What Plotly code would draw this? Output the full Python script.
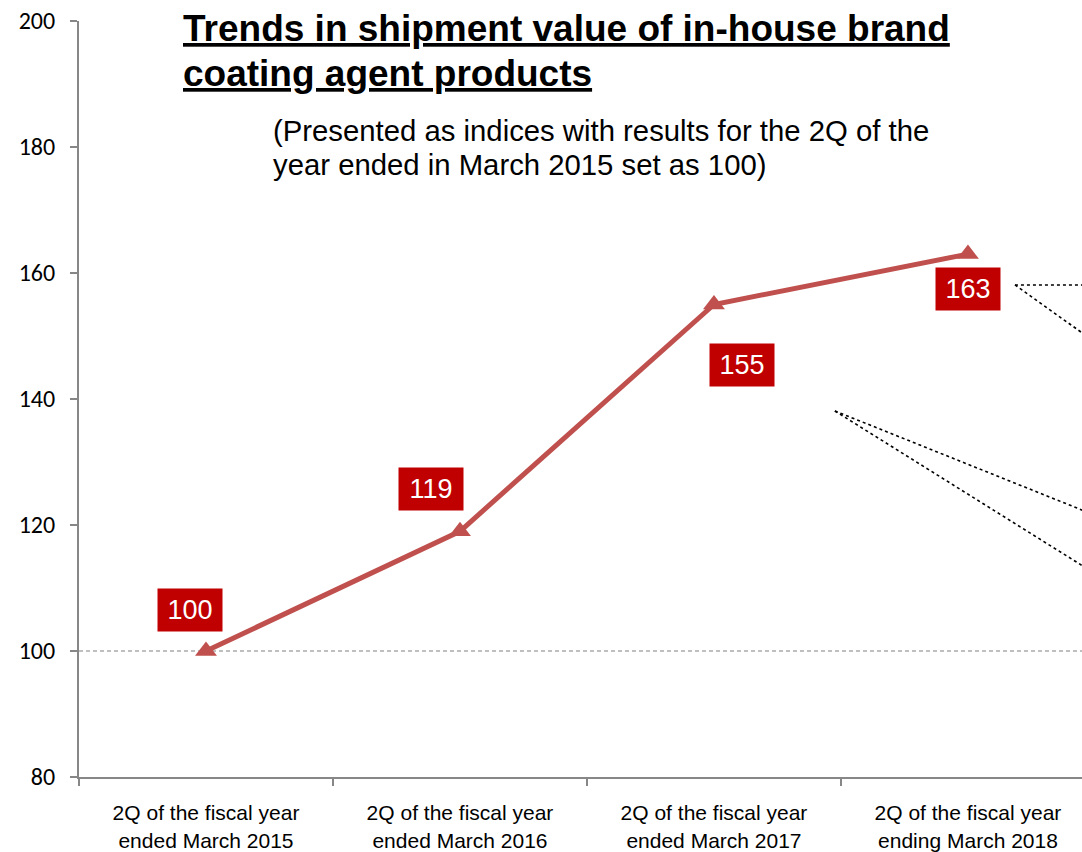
import plotly.graph_objects as go

# Shipment value index (2Q of FY ended March 2015 = 100)
periods = [
    "2Q of the fiscal year<br>ended March 2015",
    "2Q of the fiscal year<br>ended March 2016",
    "2Q of the fiscal year<br>ended March 2017",
    "2Q of the fiscal year<br>ending March 2018",
]
index_values = [100, 119, 155, 163]
y_ticks = [80, 100, 120, 140, 160, 180, 200]

title_lines = ["Trends in shipment value of in-house brand", "coating agent products"]
note_lines = ["(Presented as indices with results for the 2Q of the",
              "year ended in March 2015 set as 100)"]

# Pixel offsets for the value badges relative to each point
badge_dx = [-16, -29, 28, 0]
badge_dy = [41, 42, -60, -35]

# Dotted callout leaders running off to the right (category-x, index-y)
callouts = [
    ((3.185, 158.1), (3.46, 158.1)),
    ((3.185, 158.1), (3.46, 150.2)),
    ((2.476, 138.1), (3.46, 122.2)),
    ((2.476, 138.1), (3.46, 113.3)),
]

line_color = "#C0504D"
badge_color = "#C00000"
axis_color = "#878787"
sans = "Liberation Sans, Arial"

# Plot area in pixels: left 79, top 21, width 1003, height 756
PL, PT, PW, PH = 79, 21, 1003, 756


def px_to_paper(x_px, y_px):
    return (x_px - PL) / PW, 1 - (y_px - PT) / PH


fig = go.Figure()
fig.add_trace(go.Scatter(
    x=periods, y=index_values,
    mode="lines+markers",
    line=dict(color=line_color, width=5),
    marker=dict(symbol="triangle-up", size=19, color=line_color),
    cliponaxis=False,
    hoverinfo="skip",
))

# Reference line at the base index
fig.add_shape(type="line", xref="paper", yref="y", x0=0, x1=1, y0=100, y1=100,
              line=dict(color="#808080", width=1.2, dash="4px,3px"), layer="below")

for (x0, y0), (x1, y1) in callouts:
    fig.add_shape(type="line", xref="x", yref="y", x0=x0, y0=y0, x1=x1, y1=y1,
                  line=dict(color="#000000", width=1.6, dash="dot"))

for i, (v, dx, dy) in enumerate(zip(index_values, badge_dx, badge_dy)):
    fig.add_annotation(
        x=periods[i], y=v, xref="x", yref="y", text=str(v), showarrow=False,
        xshift=dx, yshift=dy, width=62, height=40,
        bgcolor=badge_color, font=dict(family=sans, size=27, color="white"),
    )

# Title (bold, underlined) and note, one annotation per line
for line, y_px in zip(title_lines, [28, 73]):
    px, py = px_to_paper(181, y_px)
    fig.add_annotation(
        xref="paper", yref="paper", x=px, y=py,
        xanchor="left", yanchor="middle", text=f"<b><u>{line}</u></b>",
        showarrow=False, font=dict(family=sans, size=37, color="black"),
    )
for line, y_px in zip(note_lines, [131, 164]):
    px, py = px_to_paper(271, y_px)
    fig.add_annotation(
        xref="paper", yref="paper", x=px, y=py,
        xanchor="left", yanchor="middle", text=line,
        showarrow=False, font=dict(family=sans, size=29.3, color="black"),
    )

fig.update_layout(
    width=1082, height=852,
    margin=dict(l=PL, r=0, t=PT, b=852 - PT - PH),
    plot_bgcolor="white", paper_bgcolor="white",
    showlegend=False,
    xaxis=dict(
        type="category", range=[-0.5, 3.449],
        showgrid=False, zeroline=False, showline=True, linecolor=axis_color, linewidth=2,
        ticks="outside", tickson="boundaries", ticklen=7, tickcolor=axis_color, tickwidth=2,
        ticklabelstandoff=16,
        tickfont=dict(family=sans, size=21, color="black"),
        fixedrange=True,
    ),
    yaxis=dict(
        range=[80, 200], tickvals=y_ticks, showgrid=False, zeroline=False,
        showline=True, linecolor=axis_color, linewidth=2,
        ticks="outside", ticklen=7, tickcolor=axis_color, tickwidth=2,
        ticklabelstandoff=10,
        tickfont=dict(family="Carlito, Calibri, Lato", size=24, color="black"),
        fixedrange=True,
    ),
)

fig.write_html("out.html")
